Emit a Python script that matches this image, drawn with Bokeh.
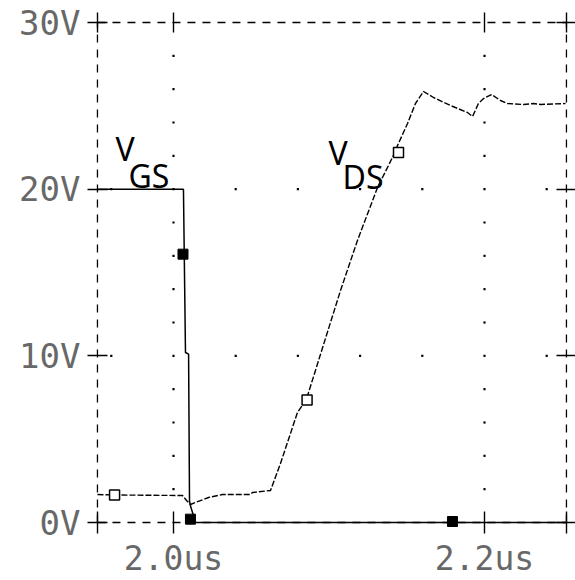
from bokeh.plotting import figure
from bokeh.models import LinearAxis, FixedTicker, Range1d
from bokeh.core.properties import value
from bokeh.embed import file_html
from bokeh.resources import INLINE

# ---- oscilloscope window (us, V) ----
T_MIN, T_MAX = 1.9511, 2.2527
V_MIN, V_MAX = 0, 30

# ---- tick labels ----
y_ticks = [0, 10, 20, 30]
y_tick_labels = ["0V", "10V", "20V", "30V"]
x_ticks = [2.0, 2.2]
x_tick_labels = ["2.0us", "2.2us"]

# ---- dotted graticule ----
grid_t = [2.0, 2.2]
grid_v = [10, 20]
dot_v = [2, 4, 6, 8, 12, 14, 16, 18, 22, 24, 26, 28]
dot_t = [1.96, 2.04, 2.08, 2.12, 2.16, 2.24]

# ---- V_GS trace ----
vgs_t = [1.9511, 2.0064, 2.0077, 2.0097, 2.0103, 2.0109, 2.0142, 2.2527]
vgs_v = [20.0, 20.0, 10.2, 10.1, 1.3, 1.0, 0.0, 0.0]
vgs_mark_t = [2.0061, 2.0109, 2.1794]
vgs_mark_v = [16.1, 0.2, 0.06]

# ---- V_DS trace ----
vds_t = [1.9511, 1.9621, 2.0058, 2.0084, 2.0109, 2.0141, 2.0225, 2.0315, 2.0495,
         2.0508, 2.0624, 2.0688, 2.0797, 2.0855, 2.0945, 2.1074, 2.1183, 2.1312,
         2.1408, 2.1440, 2.1505, 2.1556, 2.1608, 2.1672, 2.1781, 2.1891, 2.1923,
         2.1961, 2.1994, 2.2045, 2.2103, 2.2148, 2.2251, 2.2315, 2.2360, 2.2521]
vds_v = [1.68, 1.65, 1.62, 1.32, 1.08, 1.20, 1.50, 1.68, 1.68,
         1.80, 1.92, 3.54, 6.60, 7.40, 10.08, 13.92, 16.92, 20.10,
         21.90, 22.60, 23.94, 25.14, 25.86, 25.50, 25.02, 24.60, 24.36,
         25.14, 25.44, 25.68, 25.32, 25.14, 25.08, 25.14, 25.08, 25.14]
vds_mark_t = [1.9621, 2.0859, 2.1447]
vds_mark_v = [1.65, 7.35, 22.2]

# ---- trace names ----
ann_text = ["V", "GS", "V", "DS"]
ann_t = [1.9627, 1.9711, 2.0997, 2.1087]
ann_v = [22.44, 20.82, 22.2, 20.76]

p = figure(width=575, height=580, output_backend="svg", toolbar_location=None,
           x_axis_location=None, y_axis_location=None,
           x_range=Range1d(1.888746, 2.258521), y_range=Range1d(-3.48, 31.32),
           min_border=0, outline_line_color=None, background_fill_color="white")
p.xgrid.visible = False
p.ygrid.visible = False

TICK_FONT = "DejaVu Sans Mono"
TICK_COLOR = "#686868"

def make_axis(ticks, loc, overrides, size="0px", tin=10, tout=10, standoff=0):
    ax = LinearAxis(fixed_location=loc, ticker=FixedTicker(ticks=ticks),
                    axis_line_color=None, major_tick_in=tin, major_tick_out=tout,
                    major_tick_line_color="black", major_tick_line_width=1.4,
                    minor_tick_line_color=None, major_label_standoff=standoff,
                    major_label_text_font=TICK_FONT, major_label_text_font_size=size,
                    major_label_text_color=TICK_COLOR, major_label_overrides=overrides)
    return ax

y_over = {v: s for v, s in zip(y_ticks, y_tick_labels)}
x_all = [T_MIN] + x_ticks + [T_MAX]
x_over = {T_MIN: "", T_MAX: ""}
x_over.update({v: s for v, s in zip(x_ticks, x_tick_labels)})
blank_y = {v: "" for v in y_ticks}
blank_x = {v: "" for v in x_all}

p.add_layout(make_axis(y_ticks, T_MIN, y_over, size="34px", standoff=7), "left")
p.add_layout(make_axis(y_ticks, T_MAX, blank_y), "right")
p.add_layout(make_axis(x_all, V_MIN, x_over, size="33px", tin=11, tout=11, standoff=5), "below")
p.add_layout(make_axis(x_all, V_MAX, blank_x), "above")

# dashed frame
p.segment(x0=[T_MIN, T_MAX, T_MIN, T_MIN], y0=[V_MIN, V_MIN, V_MAX, V_MIN],
          x1=[T_MIN, T_MAX, T_MAX, T_MAX], y1=[V_MAX, V_MAX, V_MAX, V_MIN],
          line_color="black", line_width=1.3, line_dash="8 7")

# graticule dots
gx, gy = [], []
for t in grid_t:
    for v in dot_v + grid_v:
        gx.append(t); gy.append(v)
for v in grid_v:
    for t in dot_t:
        gx.append(t); gy.append(v)
p.scatter(gx, gy, marker="square", size=2.2, color="black", line_color=None)

# traces
p.line(vgs_t, vgs_v, line_color="black", line_width=1.5)
p.line(vds_t, vds_v, line_color="black", line_width=1.4, line_dash="6 2")

p.scatter(vgs_mark_t, vgs_mark_v, marker="square", size=10, fill_color="black",
          line_color="black")
p.scatter(vds_mark_t, vds_mark_v, marker="square", size=10, fill_color="white",
          line_color="black", line_width=1.5)

p.text(ann_t, ann_v, text=ann_text, text_font=value("Noto Sans"), text_font_size="32px",
       text_color="black", text_baseline="alphabetic", text_align="left")

open("out.html", "w").write(file_html(p, INLINE))
